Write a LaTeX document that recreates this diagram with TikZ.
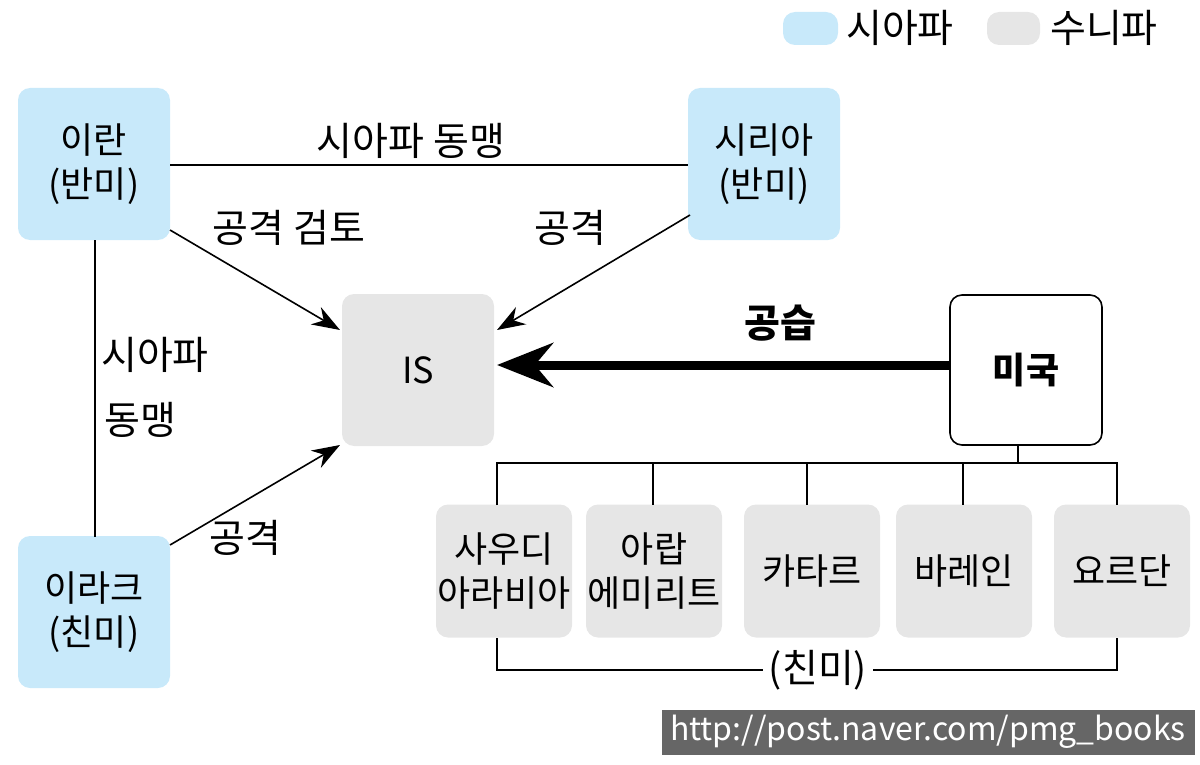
\documentclass[tikz,border=0pt]{standalone}
\usepackage{fontspec}
\setmainfont{Noto Sans CJK KR}
\usetikzlibrary{arrows.meta}
\definecolor{shia}{HTML}{C8E9FA}
\definecolor{sunni}{HTML}{E6E6E6}
\begin{document}
\begin{tikzpicture}[x=0.5pt,y=-0.5pt,
 box/.style={rounded corners=6pt,inner sep=0,font=\fontsize{18}{22}\selectfont,align=center},
 shia/.style={box,fill=shia,minimum width=76pt,minimum height=76pt},
 sunni/.style={box,fill=sunni,minimum width=76pt,minimum height=76pt},
 small/.style={box,fill=sunni,minimum width=68pt,minimum height=66.5pt},
 lbl/.style={font=\fontsize{19.5}{22}\selectfont,inner sep=1pt},
 ln/.style={line width=0.8pt},
 arr/.style={ln,-{Stealth[length=14pt,width=10pt]}}]
\useasboundingbox (0,0) rectangle (1200,765);
\fill[shia] (783,12) rectangle (838,45);
\node[lbl] (l1) at (900,28) {시아파};
\fill[sunni] (987,12) rectangle (1040,45);
\node[lbl] (l2) at (1104,28) {수니파};
\node[shia] (iran) at (94,164) {이란\\(반미)};
\node[shia] (syria) at (764,164) {시리아\\(반미)};
\node[shia] (iraq) at (94,612) {이라크\\(친미)};
\node[sunni] (is) at (418,370) {IS};
\node[box,draw,ln,minimum width=76pt,minimum height=75pt] (us) at (1026,370) {\bfseries 미국};
\node[small] (s1) at (504,571) {사우디\\아라비아};
\node[small] (s2) at (654,571) {아랍\\에미리트};
\node[small] (s3) at (812,571) {카타르};
\node[small] (s4) at (964,571) {바레인};
\node[small] (s5) at (1122,571) {요르단};
\draw[ln] (iran.east |- 0,165) -- (syria.west |- 0,165) node[lbl,midway,above=2pt,xshift=-9pt] {시아파 동맹};
\draw[ln] (95,240) -- (95,537);
\node[lbl] at (155,355) {시아파};
\node[lbl] at (140,420) {동맹};
\draw[arr] (170,230) -- (340,330);
\node[lbl] at (289,228) {공격 검토};
\draw[arr] (690,215) -- (497,330);
\node[lbl] at (570,228) {공격};
\draw[arr] (170,545) -- (340,445);
\node[lbl] at (245,538) {공격};
\draw[line width=4.5pt,-{Stealth[length=28pt,width=22pt]}] (us.west |- 0,365) -- (497,365);
\node[lbl,font=\fontsize{19.5}{22}\selectfont\bfseries] at (780,323) {공습};
\coordinate (t) at (1018,463);
\draw[ln] (1018,446) -- (t);
\draw[ln] (497,505) |- (1117,463) -- (1117,505);
\foreach \x in {653,807,963} \draw[ln] (\x,463) -- (\x,505);
\draw[ln] (497,638) |- (1117,670) -- (1117,638);
\node[lbl,fill=white,inner sep=3pt] at (818,670) {(친미)};
\fill[black!60] (662,710) rectangle (1195,755);
\node[lbl,text=white,font=\fontsize{16}{20}\selectfont] at (928,732) {http://post.naver.com/pmg\_books};
\end{tikzpicture}
\end{document}
